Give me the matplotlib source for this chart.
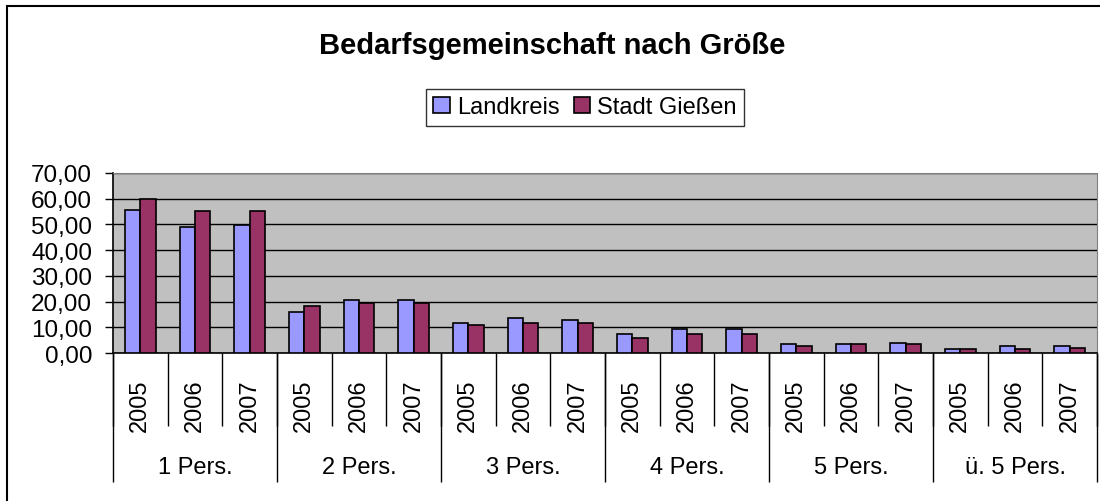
import numpy as np
import matplotlib
matplotlib.use("Agg")
import matplotlib.pyplot as plt
from matplotlib.patches import Rectangle

plt.rcParams['font.family'] = ['Liberation Sans', 'DejaVu Sans']

# data
groups = ["1 Pers.", "2 Pers.", "3 Pers.", "4 Pers.", "5 Pers.", "ü. 5 Pers."]
years = ["2005", "2006", "2007"]
landkreis = [55.6, 49.0, 49.7,
             16.1, 20.7, 20.7,
             11.7, 13.5, 13.0,
             7.5, 9.2, 9.2,
             3.5, 3.5, 4.0,
             1.4, 2.7, 2.7]
stadt_giessen = [59.9, 55.1, 55.1,
                 18.4, 19.6, 19.6,
                 11.0, 11.7, 11.7,
                 5.7, 7.5, 7.5,
                 2.7, 3.5, 3.5,
                 1.4, 1.4, 2.1]
y_ticks = [0, 10, 20, 30, 40, 50, 60, 70]

fig = plt.figure(figsize=(11, 5.02), dpi=100)
ax = fig.add_axes([0.1027, 0.2948, 0.8946, 0.3586])

n = len(landkreis)
x = np.arange(n)
w = 0.28
ax.bar(x - w / 2, landkreis, w, color="#9999FF", edgecolor="black", linewidth=1.2,
       label="Landkreis", zorder=3)
ax.bar(x + w / 2, stadt_giessen, w, color="#993366", edgecolor="black", linewidth=1.2,
       label="Stadt Gießen", zorder=3)

ax.set_facecolor("#C0C0C0")
ax.set_xlim(-0.5, n - 0.5)
ax.set_ylim(0, 70)
ax.set_yticks(y_ticks)
ax.set_yticklabels([f"{v:.2f}".replace(".", ",") for v in y_ticks], fontsize=17.5)
ax.tick_params(axis="y", length=6, width=1, pad=9)
ax.yaxis.grid(True, color="black", linewidth=1, zorder=1)
ax.set_axisbelow(True)
ax.set_xticks([])
for s in ["top", "right"]:
    ax.spines[s].set_color("#808080")
for s in ["left", "bottom"]:
    ax.spines[s].set_color("black")
    ax.spines[s].set_linewidth(1.2)

# category axis: years and groups below the plot
trans = ax.get_xaxis_transform()
ax.vlines(np.arange(n + 1) - 0.5, -0.406, 0, transform=trans, color="black",
          linewidth=1, clip_on=False)
ax.vlines(np.arange(0, n + 1, 3) - 0.5, -0.717, 0, transform=trans, color="black",
          linewidth=1, clip_on=False)
for i in range(n):
    ax.text(i, -0.285, years[i % 3], transform=trans, rotation=90, ha="center",
            va="center", fontsize=17)
for j, g in enumerate(groups):
    ax.text(3 * j + 1, -0.633, g, transform=trans, ha="center", va="center", fontsize=17)

fig.text(0.502, 0.908, "Bedarfsgemeinschaft nach Größe", ha="center", va="center",
         fontsize=21, fontweight="bold")

leg = fig.legend(loc="center", bbox_to_anchor=(0.532, 0.784), ncol=2, fontsize=17,
                 frameon=True, fancybox=False, edgecolor="black", handlelength=0.7,
                 handleheight=0.7, handletextpad=0.3, columnspacing=0.6,
                 borderpad=0.3)
leg.get_frame().set_linewidth(1)

# outer chart frame
fig.patches.append(Rectangle((7 / 1100, -0.1), 1.5, 1.1 - 7 / 502, transform=fig.transFigure,
                             fill=False, edgecolor="black", linewidth=1.5))

fig.savefig("out.png", dpi=100)
